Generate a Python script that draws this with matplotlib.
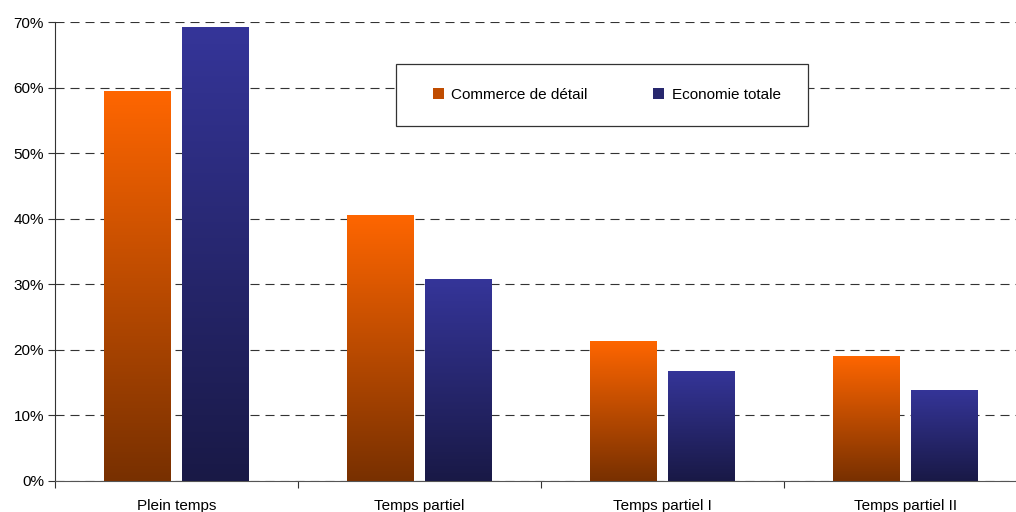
import numpy as np
import matplotlib
matplotlib.use('Agg')
import matplotlib.pyplot as plt
from matplotlib.colors import LinearSegmentedColormap
from matplotlib.patches import Patch, Rectangle

categories = ['Plein temps', 'Temps partiel', 'Temps partiel I', 'Temps partiel II']
commerce = [59.5, 40.6, 21.4, 19.1]
economie = [69.2, 30.8, 16.8, 13.9]
series_names = ['Commerce de détail', 'Economie totale']
yticks = [0, 10, 20, 30, 40, 50, 60, 70]

plt.rcParams['font.family'] = ['Liberation Sans', 'DejaVu Sans']
plt.rcParams['font.size'] = 11
plt.rcParams['lines.scale_dashes'] = False

# degradés : clair en haut, foncé en bas
cm_orange = LinearSegmentedColormap.from_list('or', ['#783000', '#ff6600'])
cm_bleu = LinearSegmentedColormap.from_list('bl', ['#191946', '#353599'])

fig = plt.figure(figsize=(10.16, 5.12), dpi=100)
ax = fig.add_axes([55/1016, 31/512, 972/1016, 459/512])

x = np.arange(len(categories)) + 0.5
w = 0.275
off = 0.161
grad = np.linspace(0, 1, 256).reshape(-1, 1)

def gradient_bars(xpos, vals, cmap):
    bars = ax.bar(xpos, vals, width=w, color='none', edgecolor='none', zorder=3)
    for b in bars:
        x0, y0 = b.get_x(), b.get_y()
        im = ax.imshow(grad, extent=[x0, x0 + b.get_width(), y0, y0 + b.get_height()],
                       origin='lower', aspect='auto', cmap=cmap, zorder=3)
        im.set_clip_path(b)

gradient_bars(x - off, commerce, cm_orange)
gradient_bars(x + off, economie, cm_bleu)

ax.set_xlim(0, 4)
ax.set_ylim(0, 70)
ax.set_yticks(yticks)
ax.set_yticklabels([f'{v}%' for v in yticks])
ax.set_xticks([0, 1, 2, 3, 4])
ax.set_xticklabels([])
ax.set_xticks(x, minor=True)
ax.set_xticklabels(categories, minor=True)
ax.tick_params(axis='x', which='minor', length=0, pad=13)
ax.tick_params(axis='x', which='major', length=5, direction='out', color='#333333')
ax.tick_params(axis='y', length=5, direction='out', pad=3, color='#333333')

ax.grid(axis='y', color='#333333', linewidth=0.8, linestyle=(0, (6.5, 4.3)))
ax.set_axisbelow(True)

for s in ['top', 'right']:
    ax.spines[s].set_visible(False)
ax.spines['left'].set_color('#333333')
ax.spines['bottom'].set_color('#555555')

# cadre de la légende
cadre = Rectangle((396/1016, (512-126)/512), 412/1016, 62/512, transform=fig.transFigure,
                  facecolor='white', edgecolor='#333333', linewidth=0.9, zorder=4)
ax.add_artist(cadre)

handles = [Patch(facecolor='#c04c00'), Patch(facecolor='#28286e')]
leg = ax.legend(handles, series_names, ncol=2, loc='center left',
                bbox_to_anchor=(433/1016, (512-95)/512),
                bbox_transform=fig.transFigure, borderaxespad=0, borderpad=0,
                handlelength=0.7, handleheight=0.7, handletextpad=0.5,
                columnspacing=4.3, frameon=False, fontsize=11)
leg.set_zorder(5)

fig.savefig('out.png', dpi=100)
